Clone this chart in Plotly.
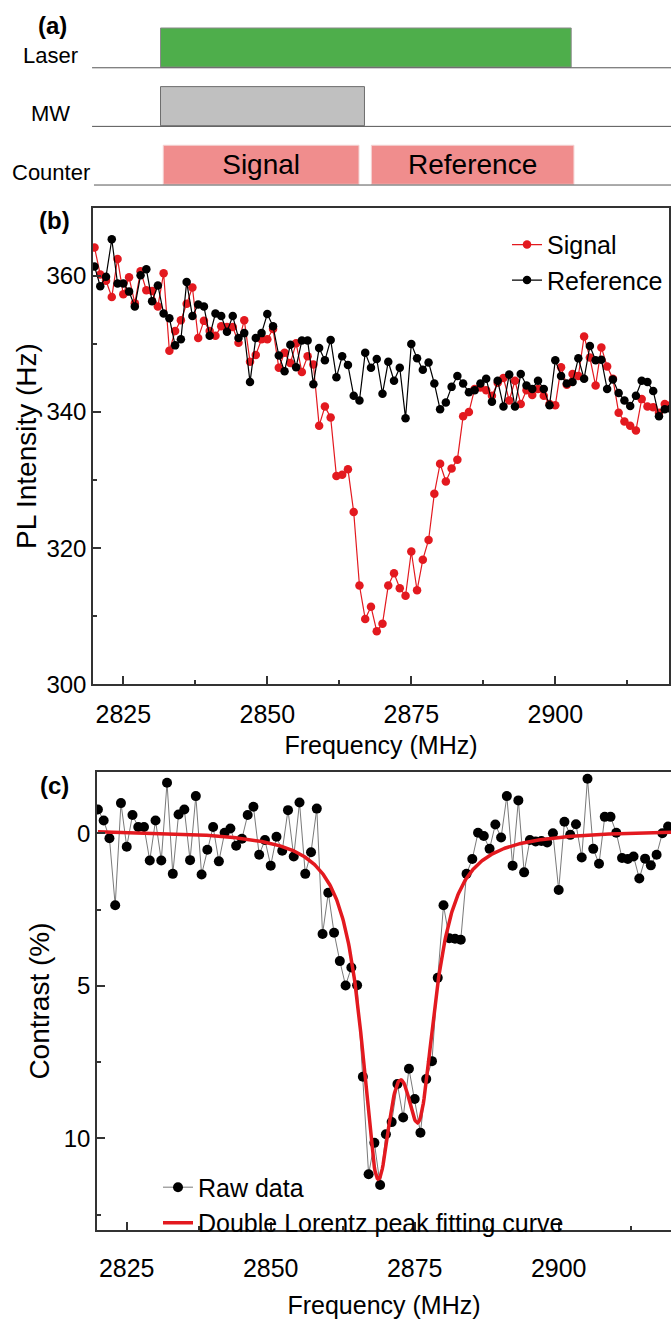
import numpy as np
import plotly.graph_objects as go

FONT = "Liberation Sans, Arial, sans-serif"
RED = "#E3191F"
AXIS = "#333333"

# ---------------- ODMR sweep data ----------------
FREQ = list(range(2820, 2921))  # MHz, 1 MHz steps

SIGNAL = [
    364.2, 360.2, 359.3, 356.9, 362.5, 357.3, 359.8, 356.0, 360.7, 357.9,
    357.8, 355.5, 360.4, 349.0, 351.9, 353.5, 355.9, 358.3, 350.9, 353.4,
    351.9, 351.2, 352.6, 352.5, 352.5, 350.2, 353.5, 347.4, 348.4, 350.7,
    350.7, 352.2, 346.5, 348.7, 347.2, 350.1, 345.9, 348.2, 347.0, 338.0,
    340.8, 339.2, 330.6, 330.8, 331.6, 325.3, 314.5, 309.6, 311.4, 307.8,
    308.9, 314.5, 316.3, 314.1, 313.0, 319.5, 313.8, 318.3, 321.2, 328.0,
    332.4, 329.8, 331.7, 333.0, 339.4, 340.0, 343.4, 343.6, 343.2, 342.4,
    344.3, 345.0, 341.7, 344.6, 341.2, 343.2, 342.5, 343.4, 342.4, 341.2,
    341.0, 346.6, 344.0, 345.6, 345.3, 351.1, 348.0, 343.9, 349.5, 346.7,
    344.9, 339.9, 338.6, 338.0, 337.3, 341.9, 340.8, 340.7, 339.9, 341.2,
    341.0,
]

REFERENCE = [
    361.4, 358.5, 359.9, 365.4, 358.9, 358.9, 357.7, 355.5, 360.1, 361.0,
    356.3, 358.6, 354.5, 353.8, 349.8, 350.7, 359.1, 354.1, 355.8, 355.5,
    351.2, 354.5, 354.1, 351.8, 354.1, 350.9, 351.6, 344.4, 350.9, 351.6,
    354.4, 352.6, 348.3, 346.0, 349.9, 346.6, 350.5, 350.5, 344.1, 349.4,
    347.6, 350.6, 345.1, 348.2, 346.9, 342.4, 341.7, 348.7, 346.5, 347.8,
    342.7, 347.4, 344.6, 346.5, 339.1, 350.0, 347.9, 346.2, 347.3, 344.2,
    340.4, 341.4, 343.7, 345.3, 344.2, 342.9, 343.2, 344.2, 344.9, 341.5,
    344.6, 340.8, 345.5, 340.8, 345.6, 343.9, 343.4, 344.6, 343.4, 341.0,
    347.6, 345.3, 344.2, 344.4, 347.9, 344.9, 349.7, 347.6, 347.7, 343.4,
    344.8, 342.8, 341.7, 340.9, 342.4, 344.6, 344.4, 343.1, 339.4, 340.4,
    340.5,
]

CONTRAST = [
    -0.78, -0.42, 0.16, 2.36, -0.99, 0.44, -0.60, -0.21, -0.21, 0.89,
    -0.42, 0.89, -1.66, 1.33, -0.62, -0.78, 0.88, -1.22, 1.35, 0.54,
    -0.21, 0.92, -0.02, -0.16, 0.41, 0.18, -0.60, -0.87, 0.70, 0.22,
    1.06, 0.11, 0.57, -0.76, 0.76, -1.01, 1.33, 0.62, -0.81, 3.30,
    1.95, 3.26, 4.19, 4.99, 4.40, 4.98, 7.98, 11.18, 10.15, 11.53,
    9.87, 9.47, 8.22, 9.32, 7.72, 8.71, 9.82, 8.06, 7.47, 4.74,
    2.36, 3.44, 3.46, 3.49, 1.33, 0.84, -0.02, 0.09, 0.51, -0.29,
    0.14, -1.22, 1.06, -1.08, 1.28, 0.22, 0.27, 0.25, 0.30, 0.00,
    1.86, -0.38, 0.05, -0.30, 0.79, -1.79, 0.51, 1.00, -0.54, -0.54,
    -0.02, 0.81, 0.84, 0.76, 1.48, 0.83, 1.05, 0.70, 0.00, -0.22,
    -0.15,
]

# Double-Lorentzian fit: offset, centres (MHz), depths (%), half widths (MHz)
FIT_OFFSET = -0.13
FIT_CENTRES = [2868.5, 2875.8]
FIT_DEPTHS = [10.06, 7.76]
FIT_HWHM = [3.4, 3.4]

# ---------------- pulse sequence (arbitrary time units) ----------------
ROW_NAMES = ["Laser", "MW", "Counter"]
ROW_POS = [2, 1, 0]
PULSE_ROW = [2, 1, 0, 0]
PULSE_START = [0.0, 0.0, 0.02, 1.54]
PULSE_END = [3.0, 1.49, 1.45, 3.02]
PULSE_COLOR = ["#4EAE4B", "#C0C0C0", "#F08D8D", "#F08D8D"]
PULSE_EDGE = ["#8A8A8A", "#6E6E6E", "#F4D4D4", "#F4D4D4"]
PULSE_TEXT = ["", "", "Signal", "Reference"]
LINE_START = [-0.50, -0.50, -0.486]
LINE_END = 3.8

W, H = 671, 1321


def px_x(p):
    return p / W


def px_y(p):
    return 1 - p / H


fig = go.Figure()

# ---- (a) timing diagram ----
fig.add_trace(go.Bar(
    y=PULSE_ROW,
    x=[e - s for s, e in zip(PULSE_START, PULSE_END)],
    base=PULSE_START,
    orientation="h",
    width=0.667,
    marker=dict(color=PULSE_COLOR, line=dict(color=PULSE_EDGE, width=1)),
    text=PULSE_TEXT,
    textposition="inside",
    insidetextanchor="middle",
    textangle=0,
    constraintext="none",
    textfont=dict(family=FONT, size=28, color="black"),
    xaxis="x3", yaxis="y3",
    showlegend=False, hoverinfo="skip",
))

for row, x0 in zip(ROW_POS, LINE_START):
    fig.add_shape(type="line", xref="x3", yref="y3",
                  x0=x0, x1=LINE_END, y0=row - 0.345, y1=row - 0.345,
                  line=dict(color="#555555", width=1))

for name, row in zip(ROW_NAMES, ROW_POS):
    fig.add_annotation(xref="x3", yref="y3", x=-0.80, y=row - 0.13,
                       text=name, showarrow=False, xanchor="center",
                       yanchor="middle",
                       font=dict(family=FONT, size=22, color="black"))

# ---- (b) signal / reference ----
fig.add_trace(go.Scatter(
    x=FREQ, y=SIGNAL, name="Signal", mode="lines+markers",
    line=dict(color=RED, width=1.2), marker=dict(color=RED, size=8.5),
    xaxis="x", yaxis="y", legend="legend",
))
fig.add_trace(go.Scatter(
    x=FREQ, y=REFERENCE, name="Reference", mode="lines+markers",
    line=dict(color="black", width=1.2), marker=dict(color="black", size=8.5),
    xaxis="x", yaxis="y", legend="legend",
))

# ---- (c) contrast with fit ----
f_fine = np.linspace(FREQ[0], FREQ[-1], 801)
fit = np.full_like(f_fine, FIT_OFFSET)
for c, d, g in zip(FIT_CENTRES, FIT_DEPTHS, FIT_HWHM):
    fit += d / (1 + ((f_fine - c) / g) ** 2)

fig.add_trace(go.Scatter(
    x=FREQ, y=CONTRAST, name="Raw data", mode="lines+markers",
    line=dict(color="#6A6A6A", width=0.9), marker=dict(color="black", size=10),
    xaxis="x2", yaxis="y2", legend="legend2",
))
fig.add_trace(go.Scatter(
    x=f_fine, y=fit, name="Double Lorentz peak fitting curve", mode="lines",
    line=dict(color=RED, width=3.5),
    xaxis="x2", yaxis="y2", legend="legend2",
))

ytickfont = dict(family=FONT, size=24, color="black")
xtickfont = dict(family=FONT, size=25, color="black")
common = dict(showline=True, linecolor=AXIS, linewidth=1.5, ticks="inside",
              ticklen=8, tickwidth=1.5, tickcolor=AXIS, showgrid=False,
              zeroline=False)

fig.update_layout(
    width=W, height=H, margin=dict(l=0, r=0, t=0, b=0),
    paper_bgcolor="white", plot_bgcolor="white",
    font=dict(family=FONT, color="black"),
    barmode="overlay",
    xaxis3=dict(domain=[0, 1], range=[-1.1724, 3.729], visible=False,
                anchor="y3", fixedrange=True),
    yaxis3=dict(domain=[px_y(200), 1], range=[-0.567, 2.811], visible=False,
                anchor="x3", fixedrange=True),
    xaxis=dict(domain=[px_x(93), px_x(669)], range=[2819.74, 2919.74],
               anchor="y", mirror=True, tick0=2825, dtick=25,
               tickfont=xtickfont, ticklabelstandoff=7,
               minor=dict(ticks="inside", ticklen=4, dtick=12.5, tick0=2825,
                          tickcolor=AXIS, tickwidth=1.5),
               title=dict(text="Frequency (MHz)", standoff=10,
                          font=dict(family=FONT, size=25, color="black")),
               **common),
    yaxis=dict(domain=[px_y(691), px_y(210)], range=[300, 370], anchor="x",
               mirror=True, tick0=300, dtick=20, tickfont=ytickfont,
               minor=dict(ticks="inside", ticklen=4, dtick=10, tick0=300,
                          tickcolor=AXIS, tickwidth=1.5),
               title=dict(text="PL Intensity (Hz)", standoff=2,
                          font=dict(family=FONT, size=28, color="black")),
               **common),
    xaxis2=dict(domain=[px_x(97), 1], range=[2819.84, 2919.5], anchor="y2",
                mirror=True, tick0=2825, dtick=25,
                tickfont=xtickfont, ticklabelstandoff=15,
                minor=dict(ticks="inside", ticklen=4, dtick=12.5, tick0=2825,
                           tickcolor=AXIS, tickwidth=1.5),
                title=dict(text="Frequency (MHz)", standoff=16,
                           font=dict(family=FONT, size=25, color="black")),
                **common),
    yaxis2=dict(domain=[px_y(1242), px_y(780)], range=[13, -2], anchor="x2",
                mirror=False, tick0=0, dtick=5, tickfont=ytickfont,
                minor=dict(ticks="inside", ticklen=4, dtick=2.5, tick0=0,
                           tickcolor=AXIS, tickwidth=1.5),
                title=dict(text="Contrast (%)", standoff=6,
                           font=dict(family=FONT, size=28, color="black")),
                **common),
    legend=dict(x=px_x(507), y=px_y(224), xanchor="left", yanchor="top",
                bgcolor="rgba(0,0,0,0)", font=dict(family=FONT, size=25),
                tracegroupgap=0),
    legend2=dict(x=px_x(158), y=px_y(1176), xanchor="left", yanchor="top",
                 bgcolor="rgba(0,0,0,0)", font=dict(family=FONT, size=25),
                 tracegroupgap=0),
)

# panel labels
for label, cx, cy in [("(a)", 52, 26), ("(b)", 54, 223), ("(c)", 54, 793)]:
    fig.add_annotation(xref="paper", yref="paper", x=px_x(cx), y=px_y(cy),
                       text=f"<b>{label}</b>", showarrow=False,
                       xanchor="center", yanchor="middle",
                       font=dict(family=FONT, size=24, color="black"))

fig.write_html("out.html")
